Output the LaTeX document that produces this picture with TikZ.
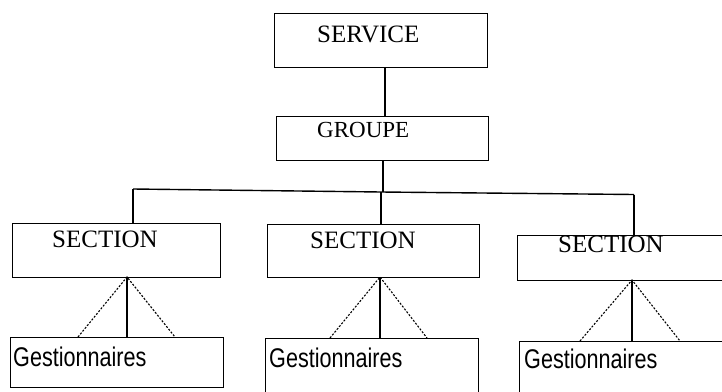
\documentclass[tikz,border=0pt]{standalone}
\usepackage{fontspec}
\setmainfont{Liberation Serif}
\newfontfamily\gestfont[FakeStretch=0.8]{Liberation Sans}
\begin{document}
\begin{tikzpicture}[x=1pt,y=-1pt,
  box/.style={draw=black,line width=1.4pt,rectangle,inner sep=0pt},
  caps/.style={anchor=base west,inner sep=0pt,font=\fontsize{25}{25}\selectfont},
  gest/.style={anchor=base west,inner sep=0pt,font=\gestfont\fontsize{27}{27}\selectfont},
  link/.style={draw=black,line width=1.4pt},
  dotlink/.style={draw=black,line width=1.1pt,dash pattern=on 2pt off 1.6pt}]
\useasboundingbox (0,0) rectangle (722,391);

% boxes
\node[box,minimum width=213pt,minimum height=54pt,anchor=north west] (service) at (274,13) {};
\node[box,minimum width=212pt,minimum height=44pt,anchor=north west] (groupe) at (276,116) {};
\node[box,minimum width=208pt,minimum height=54pt,anchor=north west] (sec1) at (12,223) {};
\node[box,minimum width=212pt,minimum height=53pt,anchor=north west] (sec2) at (267,224) {};
\node[box,minimum width=213pt,minimum height=45pt,anchor=north west] (sec3) at (517,235) {};
\node[box,minimum width=213pt,minimum height=50pt,anchor=north west] (gest1) at (10,337) {};
\node[box,minimum width=213pt,minimum height=70pt,anchor=north west] (gest2) at (265,338) {};
\node[box,minimum width=213pt,minimum height=70pt,anchor=north west] (gest3) at (519,341) {};

% labels
\node[caps] (tservice) at (317,42) {SERVICE};
\node[caps,font=\fontsize{23}{23}\selectfont] (tgroupe) at (317,137) {GROUPE};
\node[caps] (tsec1) at (52,247) {SECTION};
\node[caps] (tsec2) at (310,248) {SECTION};
\node[caps] (tsec3) at (558,252) {SECTION};
\node[gest] (tgest1) at (13,366) {Gestionnaires};
\node[gest] (tgest2) at (269,367) {Gestionnaires};
\node[gest] (tgest3) at (524,368) {Gestionnaires};

% hierarchy links
\coordinate (barL) at (133,189);
\coordinate (barM) at (381,192);
\coordinate (barR) at (634,194.5);
\draw[link] (service.south -| 385,0) -- (groupe.north -| 385,0);
\draw[link] (groupe.south -| 383,0) -- (383,192);
\draw[link] (barL) -- (barM) -- (barR);
\draw[link] (barL) -- (barL |- sec1.north);
\draw[link] (barM) -- (barM |- sec2.north);
\draw[link] (barR) -- (barR |- sec3.north);

% section to staff links
\coordinate (s1b) at (127,277);
\coordinate (s2b) at (380,277);
\coordinate (s3b) at (632,280);
\draw[link] (s1b) -- (s1b |- gest1.north);
\draw[link] (s2b) -- (s2b |- gest2.north);
\draw[link] (s3b) -- (s3b |- gest3.north);
\draw[dotlink] (78,337) -- (s1b) -- (175,337);
\draw[dotlink] (330,338) -- (s2b) -- (427,338);
\draw[dotlink] (580,341) -- (s3b) -- (680,341);
\end{tikzpicture}
\end{document}
